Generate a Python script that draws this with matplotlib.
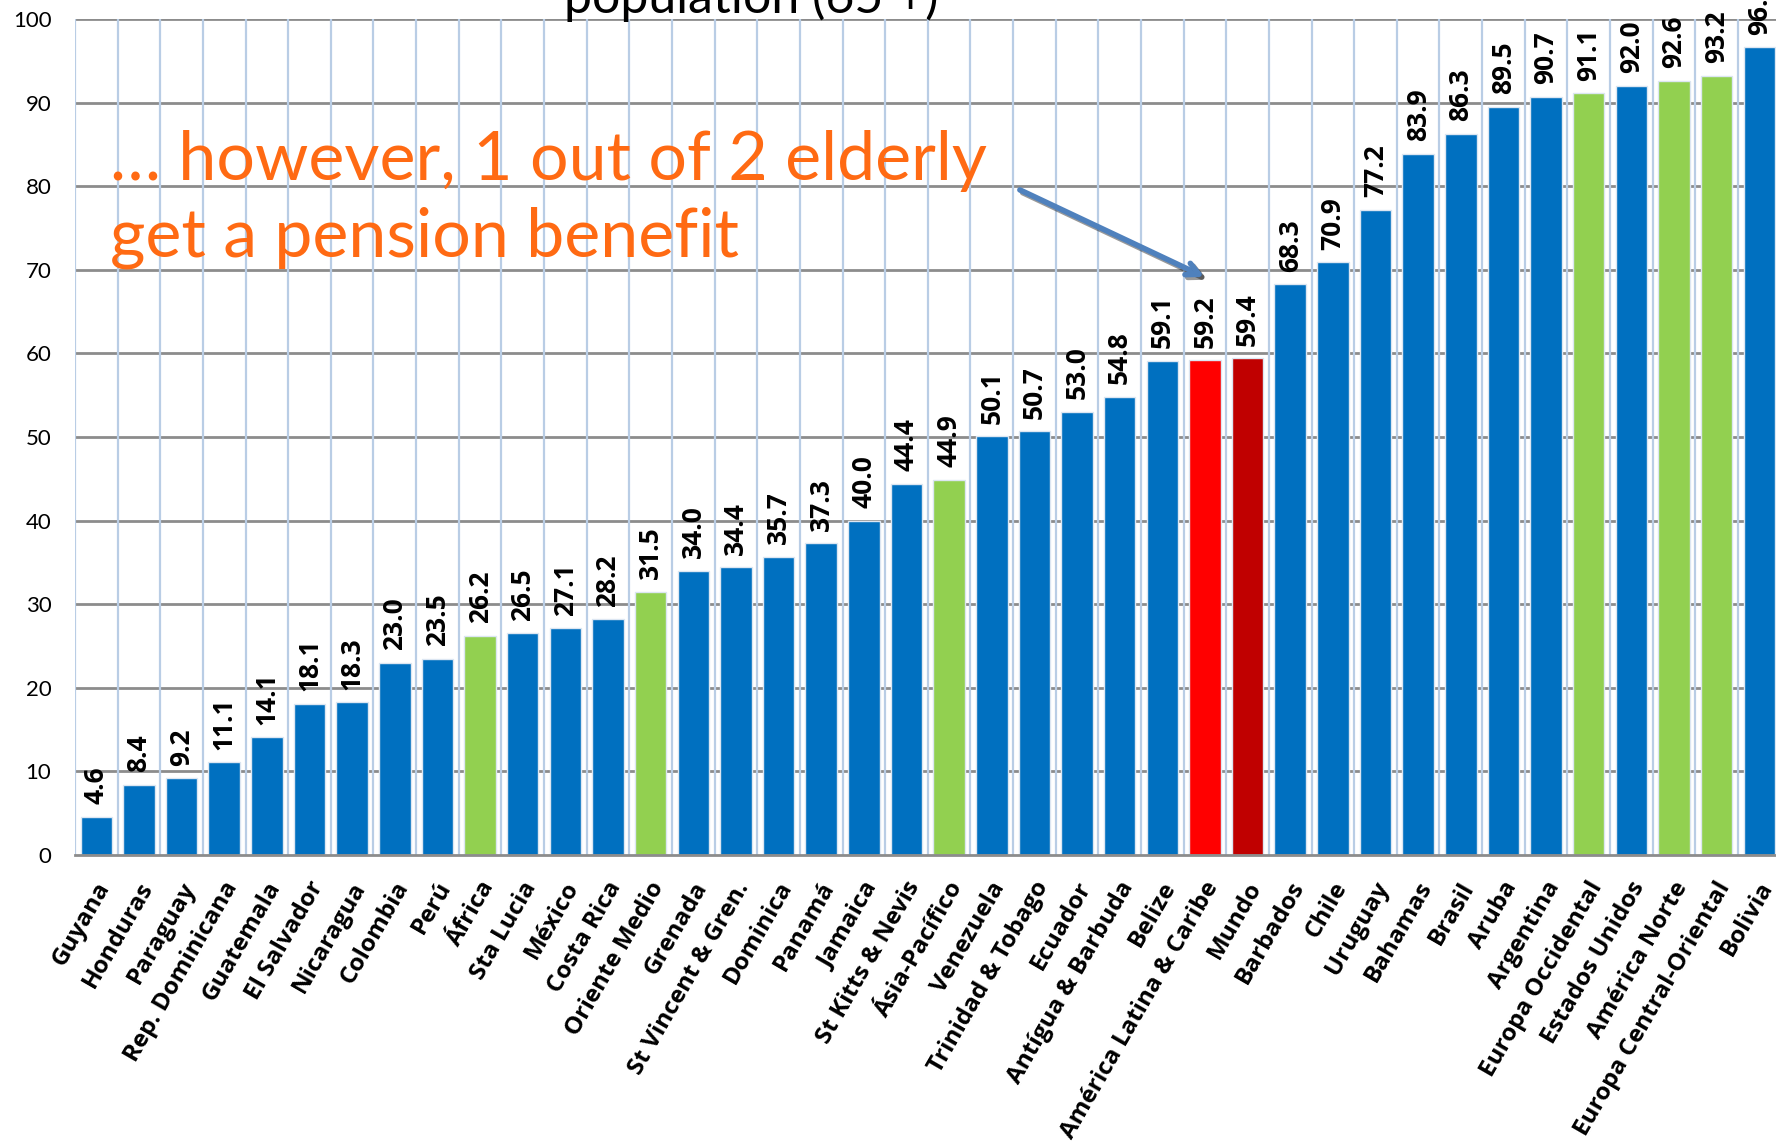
import matplotlib
matplotlib.use("Agg")
import matplotlib.pyplot as plt
import matplotlib.patheffects as pe
from matplotlib.transforms import ScaledTranslation

plt.rcParams['font.family'] = ['Lato', 'DejaVu Sans']
bold_font = ['Open Sans', 'DejaVu Sans']

# data
countries = ["Guyana", "Honduras", "Paraguay", "Rep. Dominicana", "Guatemala",
             "El Salvador", "Nicaragua", "Colombia", "Perú", "África",
             "Sta Lucia", "México", "Costa Rica", "Oriente Medio", "Grenada",
             "St Vincent & Gren.", "Dominica", "Panamá", "Jamaica", "St Kitts & Nevis",
             "Ásia-Pacífico", "Venezuela", "Trinidad & Tobago", "Ecuador",
             "Antígua & Barbuda", "Belize", "América Latina & Caribe", "Mundo",
             "Barbados", "Chile", "Uruguay", "Bahamas", "Brasil", "Aruba",
             "Argentina", "Europa Occidental", "Estados Unidos", "América Norte",
             "Europa Central-Oriental", "Bolivia"]
coverage = [4.6, 8.4, 9.2, 11.1, 14.1, 18.1, 18.3, 23.0, 23.5, 26.2,
            26.5, 27.1, 28.2, 31.5, 34.0, 34.4, 35.7, 37.3, 40.0, 44.4,
            44.9, 50.1, 50.7, 53.0, 54.8, 59.1, 59.2, 59.4, 68.3, 70.9,
            77.2, 83.9, 86.3, 89.5, 90.7, 91.1, 92.0, 92.6, 93.2, 96.6]
kind = ["c"] * 9 + ["r"] + ["c"] * 3 + ["r"] + ["c"] * 6 + ["r"] + ["c"] * 5 + \
       ["lac", "world"] + ["c"] * 7 + ["r", "c", "r", "r", "c"]

palette = {"c": "#0070C0", "r": "#92D050", "lac": "#FF0000", "world": "#C00000"}
bar_colors = [palette[k] for k in kind]

fig = plt.figure(figsize=(17.76, 11.41), dpi=100)
ax = fig.add_axes([75 / 1776, 1 - 855 / 1141, 1705.6 / 1776, 836 / 1141])

x = list(range(len(countries)))
bars = ax.bar(x, coverage, width=0.74, color=bar_colors,
              edgecolor="#dce6f2", linewidth=1, zorder=3)

ax.set_xlim(-0.5, len(countries) - 0.5)
ax.set_ylim(0, 100)
ax.set_yticks(range(0, 101, 10))

# grid: grey horizontal, light blue vertical between categories
for yv in range(10, 101, 10):
    ax.axhline(yv, color="#8c8c8c", lw=2, zorder=1)
for b in range(len(countries) + 1):
    ax.axvline(b - 0.5, color="#b9cde5", lw=1.6, zorder=1)

for s in ["top", "right", "left"]:
    ax.spines[s].set_visible(False)
ax.spines["bottom"].set_color("#8c8c8c")
ax.spines["bottom"].set_linewidth(2)
ax.spines["bottom"].set_zorder(4)

ax.tick_params(axis="y", length=0, pad=17, labelsize=16)
ax.tick_params(axis="x", length=0, pad=16)
ax.set_xticks(x)
ax.set_xticklabels(countries, rotation=60, ha="right", va="top",
                   rotation_mode="anchor", fontsize=17.5, fontweight="bold",
                   family=bold_font)
shift = ScaledTranslation(-2 / 100, 0, fig.dpi_scale_trans)
for lab in ax.get_xticklabels():
    lab.set_transform(lab.get_transform() + shift)

# value labels
for xi, v in zip(x, coverage):
    ax.annotate(f"{v:.1f}", (xi, v), xytext=(0, 9), textcoords="offset points",
                rotation=90, ha="center", va="bottom", fontsize=19,
                fontweight="bold", family=bold_font, color="black", zorder=5,
                annotation_clip=False)

# title, cut at the top of the picture
fig.text(751 / 1776, 1 - 13 / 1141, "population (65 +)", ha="center",
         va="baseline", fontsize=36, color="black")

ax.text(110 / 1776, 1 - 257 / 1141, "… however, 1 out of 2 elderly\nget a pension benefit",
        transform=fig.transFigure, ha="left", va="baseline", fontsize=49,
        color="#FF6A13", linespacing=1.3, zorder=6)

ax.annotate("", xy=(26.05, 69.0), xytext=(21.6, 79.7),
            arrowprops=dict(arrowstyle="->,head_length=0.9,head_width=0.45",
                            color="#4F81BD", lw=4,
                            path_effects=[pe.SimpleLineShadow(offset=(2, -2), alpha=0.4),
                                          pe.Normal()]),
            zorder=6)

fig.savefig("out.png", dpi=100)
